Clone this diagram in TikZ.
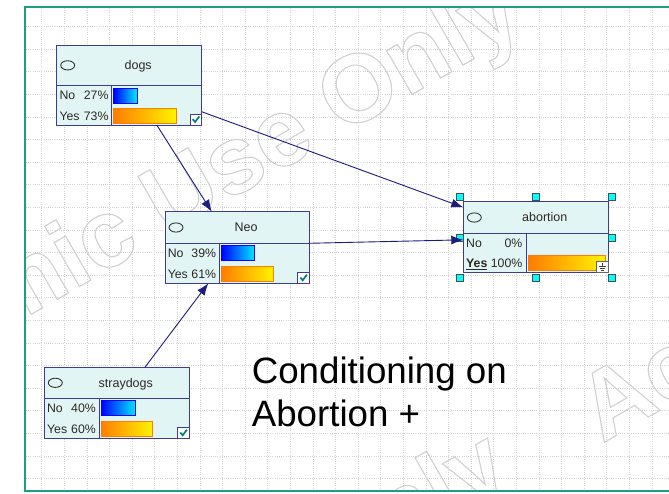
\documentclass[tikz,border=0pt]{standalone}
\usepackage{fontspec}
\setmainfont{Liberation Sans}
\usetikzlibrary{arrows.meta,calc}

\definecolor{framegreen}{RGB}{30,158,128}
\definecolor{gridgray}{RGB}{212,212,212}
\definecolor{nodefill}{RGB}{226,245,245}
\definecolor{nodeline}{RGB}{60,60,150}
\definecolor{arcblue}{RGB}{28,28,128}
\definecolor{barblue}{RGB}{0,0,255}
\definecolor{barcyan}{RGB}{0,232,255}
\definecolor{barorange}{RGB}{255,125,0}
\definecolor{baryellow}{RGB}{255,245,0}
\definecolor{checkteal}{RGB}{0,125,125}
\definecolor{handlecyan}{RGB}{0,255,255}
\definecolor{wmgray}{RGB}{208,208,208}
\definecolor{labeltext}{RGB}{45,40,35}

\tikzset{
  gridline/.style={draw=gridgray, line width=0.8pt, dash pattern=on 1pt off 1.2pt},
  boxline/.style={draw=nodeline, line width=1pt},
  netbox/.style={boxline, fill=nodefill, inner sep=0pt, outer sep=0pt, anchor=north west},
  titletext/.style={text=labeltext, font=\fontsize{12.5}{13}\selectfont, inner sep=0pt, anchor=base},
  rowtext/.style={text=labeltext, font=\fontsize{12.3}{13}\selectfont, inner sep=0pt},
  arc/.style={draw=arcblue, line width=0.9pt, -{Latex[length=12pt, width=9pt]}},
  handle/.style={draw=black!70, fill=handlecyan, line width=0.6pt},
  watermark/.style={text=wmgray, font=\fontsize{96}{96}\selectfont\bfseries, inner sep=0pt, rotate=30},
  caption/.style={text=black, font=\fontsize{36.7}{42.7}\selectfont, inner sep=0pt, anchor=base west},
  bluebar/.style={left color=barblue, right color=barcyan, draw=barblue, line width=0.8pt},
  orangebar/.style={left color=barorange, right color=baryellow, draw=barorange, line width=0.8pt}
}

% outlined lettering for the background stamp
\newcommand\outlinetext[1]{\special{pdf:literal direct 1 Tr 1.1 w}#1\special{pdf:literal direct 0 Tr}}

% box of a network variable: name, left, top, right, title rule, bottom, column rule, title
\newcommand\bnframe[8]{%
  \node[netbox, minimum width={(#4-#2)*1pt}, minimum height={(#6-#3)*1pt}] (#1) at (#2,#3) {};
  \draw[boxline] (#2,#5) -- (#4,#5) (#7,#5) -- (#7,#6);
  \draw[draw=black!80, line width=0.9pt] ({#2+11},{(#3+#5)/2}) ellipse [x radius=7pt, y radius=4.6pt];
  \node[titletext] (#1-title) at ({(#2+18+#4)/2},{(#3+#5)/2+4.2}) {#8};
}

% state rows with belief bars: name, left, title rule, bottom, column rule, right, no, yes
\newcommand\bnrows[8]{%
  \node[rowtext, anchor=base west] (#1-no) at ({#2+2.6},{#3+14}) {No};
  \node[rowtext, anchor=base east] (#1-nop) at ({#5-3},{#3+14}) {#7\%};
  \node[rowtext, anchor=base west] (#1-yes) at ({#2+2.6},{#4-5}) {Yes};
  \node[rowtext, anchor=base east] (#1-yesp) at ({#5-3},{#4-5}) {#8\%};
  \shadedraw[bluebar] ({#5+2},{#3+2.5}) rectangle ({#5+2+0.86*#7},{#3+17.5});
  \shadedraw[orangebar] ({#5+2},{#4-17}) rectangle ({min(#5+2+0.86*#8,#6-2.5)},{#4-2});
}

% tick box in the lower right corner: right, bottom
\newcommand\bncheck[2]{%
  \draw[draw=nodeline, fill=white, line width=0.9pt] ({#1-11.5},{#2-11}) rectangle (#1,#2);
  \draw[checkteal, line width=1.7pt] ({#1-9},{#2-5.8}) -- ({#1-6.6},{#2-3}) -- ({#1-2.4},{#2-8.6});
}

\begin{document}
\begin{tikzpicture}[x=1pt, y=-1pt]
  \useasboundingbox (0,0) rectangle (669,493);
  \fill[white] (0,0) rectangle (669,493);

  % dotted layout grid
  \foreach \gx in {0,...,27}
    \draw[gridline] ({41.7+22.6*\gx},8) -- ({41.7+22.6*\gx},490);
  \foreach \gy in {0,...,20}
    \draw[gridline] (26,{26.6+22.6*\gy}) -- (669,{26.6+22.6*\gy});

  % background stamp
  \begin{scope}
    \clip (25,7) rectangle (669,491);
    \node[watermark] (wm1) at (126,231) {\outlinetext{Academic Use Only}};
    \node[watermark] (wm2) at (978,198) {\outlinetext{Academic Use Only}};
    \node[watermark] (wm3) at (113,684) {\outlinetext{Academic Use Only}};
  \end{scope}

  % window frame
  \draw[framegreen, line width=2pt] (669,7) -- (25,7) -- (25,491) -- (669,491);

  % variables
  \bnframe{dogs}{56.7}{45}{201.7}{85.7}{125}{111.7}{dogs}
  \bnrows{dogs}{56.7}{85.7}{125}{111.7}{201.7}{27}{73}
  \bncheck{201.7}{125}

  \bnframe{neo}{165}{211.7}{309.3}{243.3}{283.3}{219.3}{Neo}
  \bnrows{neo}{165}{243.3}{283.3}{219.3}{309.3}{39}{61}
  \bncheck{309.3}{283.3}

  \bnframe{stray}{44.3}{367.3}{189.3}{398.3}{438.3}{99}{straydogs}
  \bnrows{stray}{44.3}{398.3}{438.3}{99}{189.3}{40}{60}
  \bncheck{189.3}{438.3}

  \bnframe{abortion}{463.3}{201.7}{608.3}{233.3}{272.3}{526.7}{abortion}
  \node[rowtext, anchor=base west] (abortion-no) at (466,247.3) {No};
  \node[rowtext, anchor=base east] (abortion-nop) at (522.5,247.3) {0\%};
  \node[rowtext, anchor=base west] (abortion-yes) at (466,267.3) {\underline{\textbf{Yes}}};
  \node[rowtext, anchor=base east] (abortion-yesp) at (522.5,267.3) {100\%};
  \shadedraw[orangebar] (528.7,255.3) rectangle (605.8,270.3);
  % evidence marker
  \draw[draw=black!60, fill=white, line width=0.7pt] (596.7,261) rectangle (607.9,272.3);
  \draw[black!75, line width=0.7pt] (602.3,262.6) -- (602.3,266)
    (598.8,266) -- (605.8,266) (599.8,268.2) -- (604.8,268.2) (600.8,270.3) -- (603.8,270.3);

  % selection handles of the chosen variable
  \foreach \hx/\hy in {460/197, 536/197, 612/197, 460/238, 612/238, 460/278, 536/278, 612/278}
    \draw[handle] ({\hx-3.3},{\hy-3.3}) rectangle ({\hx+3.3},{\hy+3.3});

  % arcs
  \draw[arc] ($(dogs.south west)!0.69!(dogs.south east)$) -- ($(neo.north west)!0.324!(neo.north east)$);
  \draw[arc] ($(dogs.north east)!0.834!(dogs.south east)$) -- ($(abortion.north west)!0.08!(abortion.south west)$);
  \draw[arc] ($(neo.north east)!0.441!(neo.south east)$) -- ($(abortion.north west)!0.54!(abortion.south west)$);
  \draw[arc] ($(stray.north west)!0.694!(stray.north east)$) -- ($(neo.south west)!0.30!(neo.south east)$);

  % caption
  \node[caption] (cap1) at (251.6,383.3) {Conditioning on};
  \node[caption] (cap2) at (251.6,426) {Abortion +};
\end{tikzpicture}
\end{document}
